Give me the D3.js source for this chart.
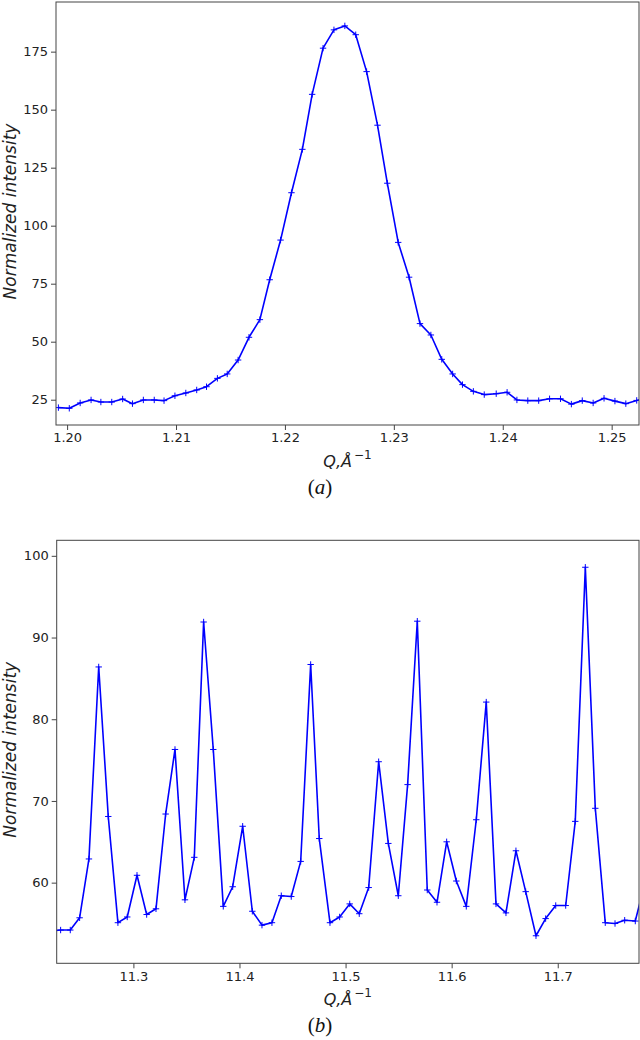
<!DOCTYPE html>
<html>
<head>
<meta charset="utf-8">
<script src="https://cdn.jsdelivr.net/npm/d3@7"></script>
<style>
  body { margin: 0; background: #fff; }
  svg { display: block; }
  .tick text { font-family: "DejaVu Sans", sans-serif; font-size: 13px; fill: #222; }
  .tick line { stroke: #444; }
  .axis-title { font-family: "DejaVu Sans", sans-serif; font-style: italic; fill: #222; }
  .panel-label { font-family: "Liberation Serif", "Times New Roman", serif; font-size: 21px; fill: #111; }
</style>
</head>
<body>
<svg class="chart" width="640" height="1040"></svg>
<script>
// panel (a): peak near 1.225
const qA = [1.1992, 1.2002, 1.2012, 1.2022, 1.2031, 1.2041, 1.2051, 1.2060, 1.2070, 1.2080,
  1.2089, 1.2099, 1.2109, 1.2119, 1.2128, 1.2138, 1.2147, 1.2157, 1.2167, 1.2177,
  1.2186, 1.2196, 1.2206, 1.2216, 1.2225, 1.2235, 1.2245, 1.2255, 1.2265, 1.2275,
  1.2285, 1.2294, 1.2304, 1.2314, 1.2324, 1.2334, 1.2344, 1.2354, 1.2363, 1.2373,
  1.2383, 1.2394, 1.2404, 1.2413, 1.2423, 1.2433, 1.2443, 1.2453, 1.2463, 1.2473,
  1.2483, 1.2493, 1.2503, 1.2513, 1.2523, 1.2533]
const intensityA = [21.6, 21.3, 23.6, 24.9, 24.0, 24.0, 25.3, 23.3, 24.9, 24.9,
  24.6, 26.7, 27.9, 29.2, 30.6, 34.2, 36.1, 42.1, 51.9, 59.5,
  76.7, 93.8, 114.2, 132.9, 156.6, 176.5, 184.4, 186.1, 182.3, 166.4,
  143.3, 118.3, 92.8, 77.8, 57.8, 52.9, 42.4, 36.1, 31.5, 28.6,
  27.2, 27.6, 28.2, 24.9, 24.6, 24.6, 25.4, 25.4, 23.1, 24.6,
  23.6, 25.6, 24.4, 23.3, 24.7, 26.0]
const xTicksA = [1.20, 1.21, 1.22, 1.23, 1.24, 1.25]
const yTicksA = [25, 50, 75, 100, 125, 150, 175]

// panel (b): 11.23 - 11.78
const qB = [11.2223, 11.2314, 11.2405, 11.2493, 11.2581, 11.2673, 11.2763, 11.2854, 11.2942, 11.3034,
  11.3125, 11.3213, 11.3304, 11.3392, 11.3486, 11.3574, 11.3662, 11.3753, 11.3847, 11.3936,
  11.4030, 11.4121, 11.4212, 11.4306, 11.4394, 11.4488, 11.4577, 11.4671, 11.4752, 11.4853,
  11.4944, 11.5039, 11.5129, 11.5218, 11.5312, 11.5403, 11.5497, 11.5585, 11.5676, 11.5770,
  11.5862, 11.5953, 11.6044, 11.6138, 11.6232, 11.6326, 11.6418, 11.6512, 11.6606, 11.6698,
  11.6795, 11.6886, 11.6981, 11.7075, 11.7165, 11.7260, 11.7354, 11.7448, 11.7540, 11.7631,
  11.7731, 11.7822]
const intensityB = [54.1, 54.2, 54.2, 55.7, 62.9, 86.4, 68.1, 55.1, 55.8, 60.9,
  56.1, 56.8, 68.4, 76.3, 57.9, 63.1, 91.9, 76.3, 57.1, 59.5,
  66.9, 56.5, 54.8, 55.1, 58.4, 58.3, 62.6, 86.7, 65.4, 55.1,
  55.8, 57.4, 56.2, 59.4, 74.8, 64.8, 58.4, 72.0, 92.0, 59.1,
  57.6, 65.0, 60.2, 57.1, 67.7, 82.1, 57.4, 56.3, 63.9, 58.9,
  53.5, 55.6, 57.2, 57.2, 67.5, 98.6, 69.1, 55.1, 55.0, 55.4,
  55.3, 60.0]
const xTicksB = [11.3, 11.4, 11.5, 11.6, 11.7]
const yTicksB = [60, 70, 80, 90, 100]

const svg = d3.select('.chart')

function panel(opts) {
  const { id, q, values, xDomain, yDomain, xTicks, yTicks, xFormat, left, right, top, bottom, label } = opts

  const x = d3.scaleLinear().domain(xDomain).range([left, right])
  const y = d3.scaleLinear().domain(yDomain).range([bottom, top])
  const points = q.map((d, i) => [d, values[i]])

  svg.append('clipPath').attr('id', id)
    .append('rect')
    .attr('x', left).attr('y', top)
    .attr('width', right - left).attr('height', bottom - top)

  const plot = svg.append('g').attr('clip-path', `url(#${id})`)

  plot.append('path')
    .datum(points)
    .attr('fill', 'none')
    .attr('stroke', '#0000ff')
    .attr('stroke-width', 1.6)
    .attr('stroke-linejoin', 'round')
    .attr('d', d3.line().x(d => x(d[0])).y(d => y(d[1])))

  plot.append('g')
    .selectAll('path')
    .data(points)
    .enter()
    .append('path')
    .attr('transform', d => `translate(${x(d[0])},${y(d[1])})`)
    .attr('d', 'M-3.2,0H3.2M0,-3.2V3.2')
    .attr('stroke', '#0000ff')
    .attr('stroke-width', 1)

  svg.append('g')
    .attr('transform', `translate(0,${bottom})`)
    .call(d3.axisBottom(x).tickValues(xTicks).tickFormat(xFormat).tickSize(5).tickPadding(3))
    .call(g => g.select('.domain').remove())

  svg.append('g')
    .attr('transform', `translate(${left},0)`)
    .call(d3.axisLeft(y).tickValues(yTicks).tickSize(5).tickPadding(3))
    .call(g => g.select('.domain').remove())

  svg.append('rect')
    .attr('x', left).attr('y', top)
    .attr('width', right - left).attr('height', bottom - top)
    .attr('fill', 'none')
    .attr('stroke', '#444')
    .attr('stroke-width', 1)

  svg.append('text')
    .attr('class', 'axis-title')
    .attr('font-size', 17)
    .attr('text-anchor', 'middle')
    .attr('transform', `translate(15.5,${(top + bottom) / 2 - 2}) rotate(-90)`)
    .text('Normalized intensity')

  const xTitle = svg.append('text')
    .attr('class', 'axis-title')
    .attr('font-size', 16)
    .attr('text-anchor', 'middle')
    .attr('x', (left + right) / 2)
    .attr('y', bottom + 42)
  xTitle.append('tspan').text('Q,Å')
  xTitle.append('tspan').attr('dx', 2).attr('dy', -8).attr('font-size', 12).attr('font-style', 'normal').text('−1')

  const caption = svg.append('text')
    .attr('class', 'panel-label')
    .attr('text-anchor', 'middle')
    .attr('x', 320)
    .attr('y', bottom + 69)
  caption.append('tspan').text('(')
  caption.append('tspan').attr('font-style', 'italic').text(label)
  caption.append('tspan').text(')')
}

panel({
  id: 'clipA',
  q: qA,
  values: intensityA,
  xDomain: [1.19898, 1.25251],
  yDomain: [14.1, 196.4],
  xTicks: xTicksA,
  yTicks: yTicksA,
  xFormat: d3.format('.2f'),
  left: 56, right: 639, top: 2, bottom: 425,
  label: 'a',
})

panel({
  id: 'clipB',
  q: qB,
  values: intensityB,
  xDomain: [11.2277, 11.7766],
  yDomain: [50.13, 101.9],
  xTicks: xTicksB,
  yTicks: yTicksB,
  xFormat: d3.format('.1f'),
  left: 56.7, right: 639, top: 540.3, bottom: 963.3,
  label: 'b',
})
</script>
</body>
</html>
